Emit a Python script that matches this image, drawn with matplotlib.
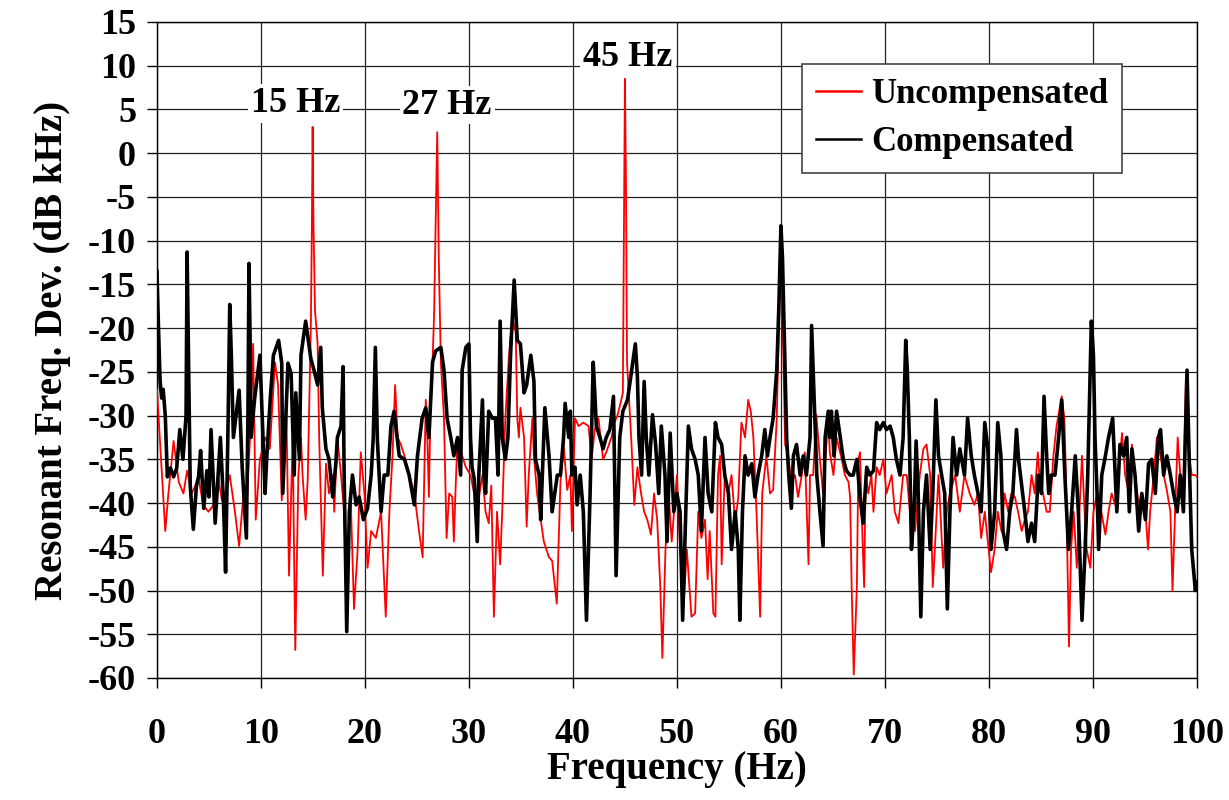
import matplotlib
matplotlib.use('Agg')
import matplotlib.pyplot as plt

plt.rcParams['font.family'] = ['Liberation Serif', 'DejaVu Serif']
plt.rcParams['font.weight'] = 'bold'
plt.rcParams['axes.unicode_minus'] = False

# compensated (black) trace
comp_f = [0.0, 0.15, 0.3, 0.45, 0.6, 0.8, 1.0, 1.3, 1.6, 1.9, 2.2, 2.5, 2.8, 2.9, 3.05, 3.2, 3.5, 3.8, 4.0, 4.2,
          4.5, 4.8, 5.0, 5.2, 5.6, 6.1, 6.4, 6.6, 6.85, 7.0, 7.15, 7.35, 7.7, 7.9, 8.2, 8.6, 8.75, 8.85, 8.95, 9.05,
          9.4, 9.9, 10.4, 10.55, 10.9, 11.2, 11.7, 12.0, 12.1, 12.3, 12.6, 12.9, 13.2, 13.35, 13.7, 13.85, 14.3, 14.8, 15.1, 15.45,
          15.75, 15.9, 16.25, 16.55, 16.9, 17.2, 17.35, 17.7, 17.9, 18.0, 18.25, 18.5, 18.8, 19.15, 19.45, 19.85, 20.25, 20.6, 20.8, 21.0,
          21.2, 21.55, 21.85, 22.2, 22.5, 22.8, 23.3, 23.8, 24.25, 24.75, 25.05, 25.5, 25.85, 26.15, 26.5, 26.8, 27.3, 27.6, 27.9, 28.25,
          28.55, 28.9, 29.2, 29.35, 29.7, 30.0, 30.15, 30.3, 30.5, 30.8, 30.95, 31.3, 31.45, 31.6, 31.9, 32.25, 32.55, 32.8, 33.0, 33.2,
          33.5, 33.75, 34.0, 34.35, 34.65, 34.95, 35.3, 35.55, 35.95, 36.25, 36.4, 36.75, 36.9, 37.3, 37.7, 38.0, 38.5, 38.8, 39.1, 39.25,
          39.6, 39.75, 39.9, 40.2, 40.4, 40.7, 41.0, 41.3, 41.65, 41.95, 42.1, 42.25, 42.6, 42.9, 43.2, 43.55, 43.9, 44.15, 44.5, 44.8,
          45.25, 45.6, 46.0, 46.2, 46.35, 46.6, 46.85, 47.05, 47.3, 47.65, 47.95, 48.25, 48.5, 48.85, 49.05, 49.35, 49.7, 50.0, 50.3, 50.55,
          50.85, 51.1, 51.4, 51.75, 52.05, 52.35, 52.7, 53.0, 53.35, 53.7, 53.95, 54.3, 54.6, 54.95, 55.25, 55.6, 55.9, 56.05, 56.3, 56.55,
          56.85, 57.2, 57.5, 57.8, 58.15, 58.45, 58.7, 58.95, 59.25, 59.6, 59.8, 60.0, 60.15, 60.3, 60.55, 60.75, 61.0, 61.2, 61.5, 61.85,
          62.15, 62.45, 62.8, 62.95, 63.2, 63.45, 63.75, 64.05, 64.25, 64.55, 64.7, 64.85, 65.1, 65.35, 65.7, 66.0, 66.3, 66.65, 66.95, 67.3,
          67.6, 67.9, 68.25, 68.55, 68.9, 69.2, 69.5, 69.85, 70.15, 70.5, 70.8, 71.1, 71.45, 71.75, 72.0, 72.15, 72.35, 72.55, 72.8, 73.0,
          73.2, 73.45, 73.7, 74.0, 74.35, 74.6, 74.9, 75.15, 75.45, 75.75, 76.0, 76.25, 76.55, 76.9, 77.2, 77.65, 77.95, 78.3, 78.6, 78.95,
          79.25, 79.6, 79.9, 80.2, 80.55, 80.85, 81.15, 81.35, 81.7, 82.0, 82.3, 82.65, 82.85, 83.15, 83.45, 83.75, 84.1, 84.4, 84.75, 85.05,
          85.3, 85.55, 85.75, 86.0, 86.35, 86.7, 87.0, 87.3, 87.65, 87.95, 88.3, 88.6, 88.95, 89.25, 89.5, 89.85, 90.05, 90.2, 90.4, 90.55,
          90.85, 91.2, 91.5, 91.9, 92.3, 92.6, 92.95, 93.25, 93.5, 93.75, 94.05, 94.4, 94.7, 95.05, 95.35, 95.65, 96.0, 96.3, 96.5, 96.8,
          97.1, 97.45, 97.75, 98.1, 98.4, 98.7, 99.05, 99.25, 99.5, 99.85, 100.0]
comp_db = [-13.5, -20, -26, -28, -27, -30, -37, -36, -37, -36, -31.6, -35, -30, -11.3, -25, -38, -43, -38, -37, -34,
           -40.6, -36.3, -39.3, -31.6, -42.3, -32.5, -40, -47.9, -30, -17.3, -23, -32.5, -29.1, -27.1, -36, -44, -30, -12.6, -20.5, -32.5,
           -28, -23.1, -38.9, -35, -28, -23.1, -21.4, -24, -38.9, -33, -24, -25.2, -36.8, -27.4, -35, -23.1, -19.2, -23.5, -24.8, -26.5,
           -22.2, -29.1, -33.8, -35, -39.3, -35.5, -32.5, -31.2, -24.4, -36.8, -54.7, -41, -36.8, -40.2, -39.3, -41.9, -40.6, -36.8, -32.5, -22.2,
           -32.9, -41, -36.8, -36.8, -31.2, -29.5, -34.6, -35, -36.8, -40.2, -34.6, -30.3, -29.1, -32.5, -23.9, -22.6, -22.2, -24.8, -30.3, -32.5,
           -34.6, -32.5, -36.8, -24.8, -22.2, -21.8, -32.5, -35.9, -37.2, -44.4, -36.8, -28.2, -36.8, -38.9, -29.5, -30.3, -30.3, -36.8, -19.2, -32.5,
           -35, -32.5, -23.1, -14.5, -21.4, -21.8, -27.4, -26.5, -23.1, -26.1, -35, -36.8, -41.9, -29.1, -34.6, -41, -36.8, -36.8, -32.5, -28.6,
           -32.5, -29.5, -36.8, -35.9, -40.2, -36.8, -41, -53.4, -38.9, -23.9, -27.4, -31.2, -32.5, -33.8, -32.5, -31.6, -27.8, -48.3, -32.5, -29.5,
           -28.2, -25.2, -21.8, -25.6, -32.5, -36.8, -26.1, -32.5, -36.8, -29.9, -33.3, -38.9, -31.2, -36.8, -44.4, -32, -41, -38.9, -41, -53.4,
           -41, -31.2, -33.8, -35, -36.8, -43.2, -32.5, -38.9, -41, -30.8, -32.5, -33.3, -36.8, -38.9, -45.3, -41, -45.3, -53.4, -41, -34.6,
           -36.8, -35.5, -39.3, -36.8, -34.6, -31.6, -34.6, -32.5, -30.3, -24.8, -17.5, -8.3, -12, -19.7, -32.5, -36.8, -40.6, -34.6, -33.3, -36.8,
           -34.6, -36.8, -32.5, -19.7, -28.2, -36.8, -41, -44.9, -32.5, -29.5, -32.5, -29.5, -34.6, -29.5, -32.5, -35, -36.3, -36.8, -36.8, -35,
           -39.3, -42.3, -35.9, -36.8, -36.3, -30.8, -31.6, -30.8, -31.6, -31.2, -32.5, -35, -36.8, -32.5, -21.4, -24.8, -32.5, -45.3, -41, -32.9,
           -38.9, -53, -41, -36.8, -45.3, -38.9, -28.2, -34.6, -36.8, -38.9, -52.1, -41, -32.5, -36.8, -33.8, -36.8, -30.3, -34.6, -36.8, -38.9,
           -41, -30.8, -33.8, -45.3, -41, -30.8, -34.6, -43.2, -45.3, -41, -38.9, -31.6, -35, -38, -41, -44.4, -42.3, -44.4, -36.8, -38.9,
           -27.8, -34.6, -38.9, -36.8, -36.8, -32.5, -28.2, -36.8, -45.3, -41, -34.6, -41, -53.4, -45.3, -36.8, -19.2, -23.1, -32.5, -38.9, -45.3,
           -36.8, -34.6, -32.5, -30.3, -41, -33.3, -34.6, -32.5, -41, -33.8, -36.8, -43.2, -38.9, -41.9, -35.5, -35, -38.9, -32.5, -31.6, -36.8,
           -34.6, -36.8, -38.9, -41, -36.8, -41, -24.8, -34.6, -45.3, -50, -49]

# uncompensated (red) trace
unc_f = [0.0, 0.3, 0.8, 1.1, 1.6, 2.1, 2.55, 2.9, 3.35, 4.0, 4.45, 4.95, 5.45, 5.9, 6.25, 6.65, 7.0, 7.5, 7.9, 8.3,
         8.6, 8.95, 9.25, 9.5, 9.9, 10.4, 10.85, 11.35, 11.65, 12.0, 12.45, 12.7, 13.05, 13.3, 13.6, 13.85, 14.0, 14.3, 14.5, 14.65,
         14.8, 14.9, 14.97, 15.05, 15.2, 15.45, 15.6, 15.95, 16.25, 16.55, 16.9, 17.05, 17.35, 17.7, 18.0, 18.15, 18.65, 18.95, 19.3, 19.6,
         19.95, 20.25, 20.6, 21.05, 21.55, 22.0, 22.35, 22.65, 22.9, 23.15, 23.45, 23.8, 24.25, 24.75, 25.2, 25.55, 25.85, 26.0, 26.15, 26.3,
         26.5, 26.65, 26.8, 26.95, 27.1, 27.3, 27.6, 27.85, 28.1, 28.4, 28.55, 28.7, 28.9, 29.35, 29.7, 30.15, 30.5, 30.95, 31.3, 31.6,
         31.9, 32.15, 32.4, 32.7, 33.0, 33.2, 33.5, 33.85, 34.15, 34.5, 34.65, 34.8, 34.95, 35.3, 35.55, 35.75, 36.1, 36.25, 36.55, 36.9,
         37.2, 37.7, 38.0, 38.45, 38.8, 39.1, 39.45, 39.75, 39.9, 40.2, 40.55, 41.0, 41.5, 41.8, 42.1, 42.45, 42.9, 43.2, 43.7, 44.0,
         44.3, 44.65, 44.8, 44.9, 45.0, 45.1, 45.2, 45.6, 45.9, 46.2, 46.55, 46.85, 47.15, 47.5, 47.8, 48.1, 48.4, 48.6, 48.9, 49.2,
         49.5, 50.0, 50.3, 50.65, 50.95, 51.4, 51.75, 52.05, 52.35, 52.7, 52.95, 53.15, 53.5, 53.7, 53.95, 54.15, 54.3, 54.6, 54.95, 55.25,
         55.6, 55.9, 56.2, 56.55, 56.85, 57.1, 57.35, 57.65, 58.0, 58.2, 58.6, 58.95, 59.25, 59.6, 59.8, 60.0, 60.15, 60.4, 60.7, 61.0,
         61.35, 61.65, 62.0, 62.3, 62.65, 62.8, 63.1, 63.4, 63.75, 64.05, 64.55, 64.7, 65.05, 65.35, 65.85, 66.15, 66.5, 66.65, 66.8, 67.0,
         67.3, 67.45, 67.6, 67.85, 68.0, 68.15, 68.4, 68.7, 68.9, 69.2, 69.5, 69.85, 70.15, 70.65, 70.95, 71.3, 71.75, 72.1, 72.4, 72.9,
         73.35, 73.7, 74.0, 74.35, 74.6, 74.8, 75.15, 75.3, 75.6, 75.95, 76.25, 76.75, 77.2, 77.65, 78.15, 78.6, 78.95, 79.25, 79.6, 79.9,
         80.2, 80.55, 80.85, 81.2, 81.5, 81.85, 82.15, 82.5, 82.8, 83.15, 83.45, 83.75, 84.1, 84.4, 84.7, 84.9, 85.2, 85.55, 85.85, 86.2,
         86.5, 87.0, 87.25, 87.4, 87.6, 87.7, 87.9, 88.15, 88.45, 88.7, 88.95, 89.2, 89.4, 89.75, 90.05, 90.4, 90.55, 91.2, 91.5, 91.8,
         92.15, 92.45, 92.8, 93.1, 93.45, 93.75, 94.05, 94.4, 94.7, 95.05, 95.3, 95.5, 95.85, 96.15, 96.5, 96.8, 97.1, 97.45, 97.65, 97.9,
         98.15, 98.4, 98.7, 98.95, 99.25, 99.5, 99.85, 100.0]
unc_db = [-27, -33, -43.2, -38.9, -32.9, -37.6, -38.9, -36.3, -38.9, -37.2, -40.2, -41, -40.2, -37.2, -39.7, -38.5, -36.8, -41, -44.9, -39.3,
          -41, -32.5, -21.8, -41.9, -35, -32.5, -33.8, -23.9, -26.5, -39.7, -29.9, -48.3, -32.5, -56.8, -36.8, -32.5, -36.8, -41.9, -37.2, -28.6,
          -19.7, -8, 3.0, -8, -18, -21.8, -32.5, -48.3, -35.5, -38.9, -36.8, -41, -32.5, -36.8, -41, -47.4, -40.2, -52.1, -45.3, -34.2,
          -38.9, -47.4, -43.2, -44, -41, -53, -41, -34.6, -26.5, -32.5, -33.3, -34.6, -36.8, -38.9, -43.2, -46.2, -28.2, -32.5, -39.3, -29.5,
          -23.9, -18.4, -8.1, 2.4, -12, -23.9, -30.3, -44, -38.9, -39.3, -44.4, -38.9, -32.5, -34.6, -35.9, -36.8, -38.9, -39.3, -36.8, -41,
          -42.3, -38, -53, -41, -47, -41, -30.3, -23.1, -18.8, -20.5, -30.3, -32.5, -29.1, -32.5, -42.7, -36.8, -30.3, -34.6, -38.9, -41.9,
          -44.4, -46.2, -46.6, -51.5, -37.6, -33.3, -38.5, -36.8, -43.2, -30.3, -31.2, -30.8, -31.2, -35, -31.6, -30.3, -35, -34.2, -32.5, -30.8,
          -29.9, -28.2, -27.4, -10, 8.5, -3.4, -23.9, -32.5, -40.2, -35.9, -38.9, -41, -41.9, -43.6, -38.9, -41.9, -49.6, -57.7, -45.3, -38.9,
          -44.4, -36.8, -45.3, -51.7, -45.3, -53, -52.6, -41, -44, -41.9, -48.7, -43.2, -52.6, -53, -36.8, -34.6, -47, -36.8, -38.9, -36.8,
          -42.3, -39.3, -30.8, -32.5, -28.2, -29.5, -32.5, -41, -53, -38.9, -34.6, -38.9, -38.5, -30.3, -20, -11, -18, -33.3, -34.6, -37.6,
          -36.8, -39.3, -36.8, -34.2, -47, -36.8, -36.8, -29.9, -35, -38.9, -30.3, -34.2, -36.8, -32.5, -35, -36.8, -37.6, -39.3, -49.6, -59.6,
          -49.6, -35, -34.2, -44.4, -49.6, -36.8, -38.9, -36.8, -41, -35.9, -36.8, -35, -38.9, -36.8, -41, -42.3, -36.8, -36.8, -41, -43.2,
          -36.8, -33.8, -33.3, -36.8, -49.6, -45.3, -36.8, -40.2, -47.4, -41, -38.9, -36.8, -41, -36.8, -38.9, -40.2, -38.9, -44, -41, -44.4,
          -47.9, -45.3, -41, -43.2, -38.9, -41, -38.9, -39.3, -41, -43.2, -41.9, -41, -36.8, -38.9, -34.2, -37.6, -38.9, -41, -41, -34.6,
          -31.2, -27.8, -30.3, -36.8, -49.6, -56.4, -45.3, -41, -47.4, -41, -34.6, -41, -45.3, -47.4, -41, -38.9, -39.3, -43.6, -41, -38.9,
          -40.2, -36.8, -32, -36.8, -38.9, -33.3, -36.8, -40.2, -38.9, -41, -45.3, -41, -36.8, -32.5, -34.6, -36.8, -38.5, -41, -50, -41,
          -32.5, -36.8, -40.2, -25, -34.6, -36.8, -36.8, -37]

peak_labels = ['15 Hz', '27 Hz', '45 Hz']
peak_label_pos = [(13.3, 5.7), (27.9, 5.5), (45.3, 10.9)]

fig = plt.figure(figsize=(12.29, 8), dpi=100)
ax = fig.add_axes([0.1277, 0.1525, 0.8462, 0.82])

ax.plot(unc_f, unc_db, color='#ff0000', lw=1.3, label='Uncompensated', zorder=3)
ax.plot(comp_f, comp_db, color='black', lw=2.6, label='Compensated', zorder=4)

ax.set_xlim(0, 100)
ax.set_ylim(-60, 15)
ax.set_xticks(range(0, 101, 10))
ax.set_yticks(range(-60, 16, 5))
ax.grid(True, color='#222222', lw=0.9)
ax.set_axisbelow(True)
ax.tick_params(direction='out', length=7, width=1, labelsize=26, pad=22)
ax.tick_params(axis='y', pad=8)
for lbl in ax.get_xticklabels() + ax.get_yticklabels():
    lbl.set_fontweight('bold')
for s in ax.spines.values():
    s.set_linewidth(1.0)

ax.set_xlabel('Frequency (Hz)', fontsize=28, fontweight='bold', labelpad=0)
ax.set_ylabel('Resonant Freq. Dev. (dB kHz)', fontsize=28, fontweight='bold', labelpad=12)

for txt, (xx, yy) in zip(peak_labels, peak_label_pos):
    ax.text(xx, yy, txt, fontsize=26, fontweight='bold', ha='center', va='center', zorder=5,
            bbox=dict(facecolor='white', edgecolor='none', pad=2))

leg = ax.legend(loc='upper left', bbox_to_anchor=(0.62, 0.936), borderaxespad=0,
                frameon=True, fancybox=False, handlelength=1.3, handletextpad=0.3, borderpad=0.4,
                labelspacing=0.45, prop={'weight': 'bold', 'size': 25})
leg.get_frame().set_edgecolor('#444444')
leg.get_frame().set_linewidth(1.2)
leg.get_frame().set_alpha(1)
for h in leg.get_lines():
    h.set_linewidth(1.8)

fig.savefig('out.png', dpi=100)
